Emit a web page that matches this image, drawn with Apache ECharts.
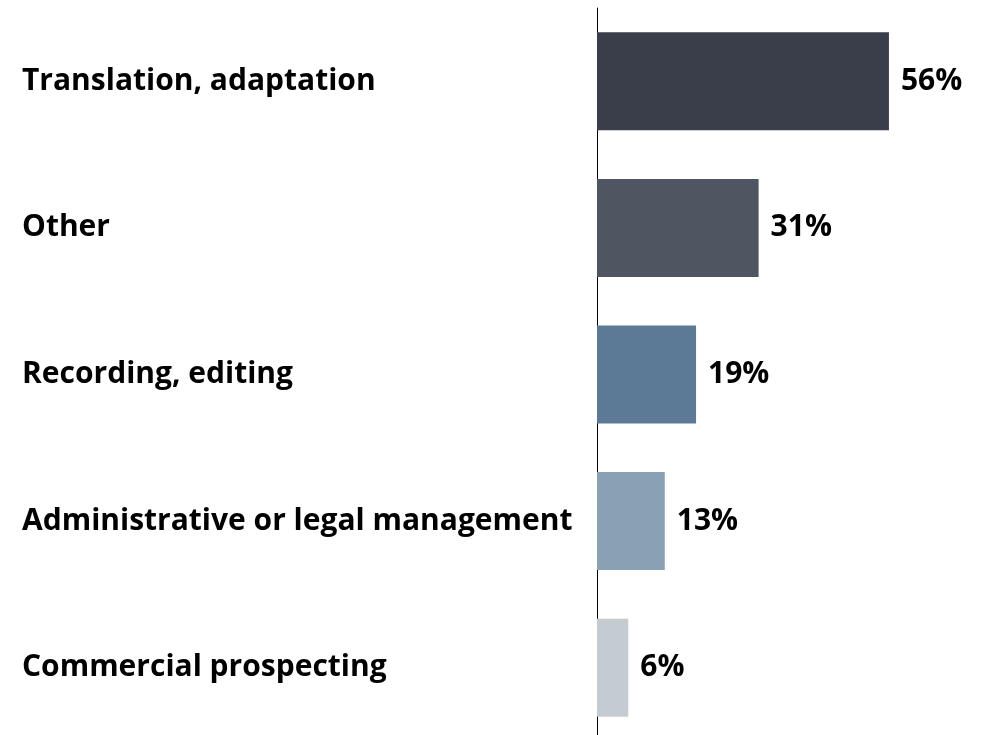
<!DOCTYPE html>
<html>
<head>
<meta charset="utf-8">
<script src="https://cdn.jsdelivr.net/npm/echarts@6/dist/echarts.min.js"></script>
<style>
  html, body { margin: 0; padding: 0; background: #fff; }
  #chart { width: 992px; height: 735px; }
</style>
</head>
<body>
<div id="chart"></div>
<script>
// categories top to bottom
const categories = [
  "Translation, adaptation",
  "Other",
  "Recording, editing",
  "Administrative or legal management",
  "Commercial prospecting"
];
const values = [56, 31, 19, 13, 6];
const barColors = ["#3a3e4a", "#4f5561", "#5c7995", "#88a1b3", "#c4ccd2"];

const chart = echarts.init(document.getElementById("chart"));

const option = {
  animation: false,
  grid: {
    left: 597,
    top: 8,
    width: 391,
    height: 733,
    outerBoundsMode: "none",
    containLabel: false
  },
  xAxis: {
    type: "value",
    min: 0,
    max: 75,
    show: false
  },
  yAxis: {
    type: "category",
    inverse: true,
    data: categories,
    axisTick: { show: false },
    axisLine: { show: true, lineStyle: { color: "#000", width: 1 } },
    axisLabel: {
      align: "left",
      margin: 575,
      padding: [5, 0, 0, 0],
      color: "#000",
      fontFamily: "Open Sans",
      fontWeight: "bold",
      fontSize: 30
    }
  },
  series: [
    {
      type: "bar",
      barWidth: 98,
      data: values.map((v, i) => ({ value: v, itemStyle: { color: barColors[i] } })),
      label: {
        show: true,
        position: "right",
        distance: 12,
        padding: [6, 0, 0, 0],
        formatter: "{c}%",
        color: "#000",
        fontFamily: "Open Sans",
        fontWeight: "bold",
        fontSize: 30
      }
    }
  ]
};

chart.setOption(option);
</script>
</body>
</html>
